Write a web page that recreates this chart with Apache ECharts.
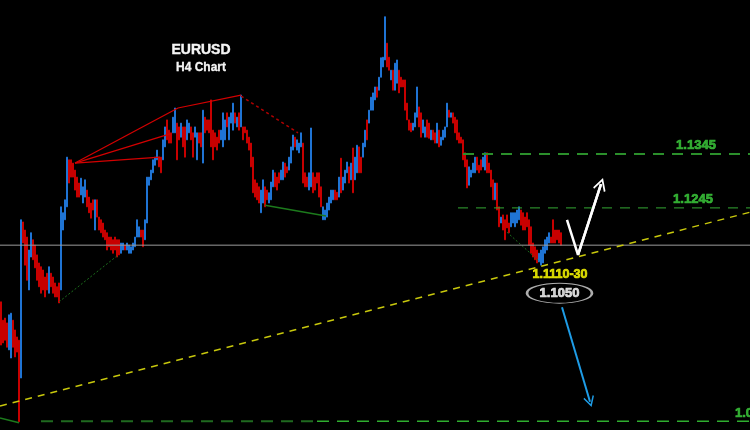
<!DOCTYPE html>
<html>
<head>
<meta charset="utf-8">
<script src="https://cdn.jsdelivr.net/npm/echarts@6/dist/echarts.min.js"></script>
<style>
html,body{margin:0;padding:0;background:#000;}
#chart{width:750px;height:430px;}
</style>
</head>
<body>
<div id="chart"></div>
<script>
// ---- EURUSD H4 candles (prices) ----
const candleOpen = [
1.1071,1.1037,1.1041,1.1032,1.0982,1.0967,1.1037,1.1019,1.1006,1.1000,
1.0930,1.1219,1.1204,1.1191,1.1093,1.1154,1.1186,1.1176,1.1158,1.1143,
1.1136,1.1130,1.1117,1.1124,1.1087,1.1124,1.1117,1.1106,1.1099,1.1106,
1.1093,1.1204,1.1223,1.1247,1.1334,1.1334,1.1328,1.1315,1.1302,1.1291,
1.1269,1.1254,1.1265,1.1278,1.1265,1.1254,1.1260,1.1204,1.1260,1.1228,
1.1223,1.1217,1.1204,1.1199,1.1191,1.1191,1.1186,1.1191,1.1186,1.1186,
1.1161,1.1167,1.1176,1.1167,1.1161,1.1161,1.1167,1.1173,1.1191,1.1191,
1.1204,1.1204,1.1186,1.1217,1.1287,1.1297,1.1310,1.1324,1.1334,1.1339,
1.1339,1.1334,1.1358,1.1408,1.1389,1.1384,1.1384,1.1384,1.1402,1.1395,
1.1376,1.1395,1.1395,1.1371,1.1384,1.1395,1.1384,1.1376,1.1334,1.1384,
1.1384,1.1328,1.1413,1.1408,1.1408,1.1445,1.1389,1.1384,1.1376,1.1389,
1.1371,1.1358,1.1371,1.1421,1.1371,1.1402,1.1389,1.1421,1.1395,1.1421,
1.1395,1.1395,1.1395,1.1389,1.1376,1.1365,1.1339,1.1297,1.1291,1.1284,
1.1236,1.1254,1.1284,1.1278,1.1254,1.1260,1.1284,1.1310,1.1302,1.1310,
1.1297,1.1297,1.1328,1.1321,1.1315,1.1328,1.1352,1.1376,1.1352,1.1347,
1.1358,1.1365,1.1310,1.1302,1.1278,1.1284,1.1310,1.1302,1.1310,1.1310,
1.1284,1.1223,1.1223,1.1228,1.1241,1.1254,1.1260,1.1278,1.1274,1.1265,
1.1337,1.1278,1.1291,1.1310,1.1321,1.1297,1.1356,1.1297,1.1310,1.1358,
1.1339,1.1339,1.1358,1.1408,1.1402,1.1426,1.1426,1.1445,1.1469,1.1463,
1.1487,1.1506,1.1519,1.1550,1.1524,1.1482,1.1500,1.1463,1.1476,1.1500,
1.1487,1.1482,1.1482,1.1439,1.1408,1.1402,1.1389,1.1395,1.1413,1.1432,
1.1421,1.1384,1.1376,1.1408,1.1402,1.1371,1.1389,1.1384,1.1365,1.1389,
1.1361,1.1371,1.1376,1.1395,1.1426,1.1413,1.1421,1.1413,1.1408,1.1384,
1.1376,1.1371,1.1347,1.1334,1.1287,1.1302,1.1310,1.1310,1.1339,1.1324,
1.1334,1.1321,1.1315,1.1347,1.1328,1.1315,1.1297,1.1260,1.1291,1.1247,
1.1217,1.1232,1.1223,1.1232,1.1217,1.1210,1.1217,1.1210,1.1217,1.1223,
1.1241,1.1236,1.1228,1.1236,1.1223,1.1210,1.1180,1.1173,1.1167,1.1145,
1.1139,1.1143,1.1161,1.1167,1.1180,1.1191,1.1223,1.1204,1.1204,1.1204,1.1199
];
const candleClose = [
1.0991,1.0995,1.1000,1.0987,1.1047,1.1050,1.0987,1.0969,1.0978,1.0849,
1.1223,1.1180,1.1139,1.1111,1.1167,1.1199,1.1149,1.1134,1.1111,1.1099,
1.1087,1.1093,1.1080,1.1093,1.1136,1.1099,1.1087,1.1080,1.1080,1.1069,
1.1247,1.1236,1.1260,1.1339,1.1291,1.1302,1.1302,1.1278,1.1265,1.1265,
1.1300,1.1284,1.1297,1.1247,1.1236,1.1226,1.1241,1.1260,1.1228,1.1204,
1.1199,1.1191,1.1186,1.1167,1.1173,1.1167,1.1161,1.1167,1.1154,1.1158,
1.1180,1.1180,1.1167,1.1180,1.1176,1.1173,1.1180,1.1191,1.1223,1.1210,
1.1191,1.1173,1.1223,1.1302,1.1302,1.1315,1.1334,1.1339,1.1352,1.1321,
1.1310,1.1371,1.1395,1.1371,1.1365,1.1365,1.1413,1.1430,1.1334,1.1371,
1.1402,1.1358,1.1339,1.1408,1.1402,1.1371,1.1339,1.1395,1.1384,1.1365,
1.1358,1.1426,1.1384,1.1389,1.1384,1.1358,1.1334,1.1358,1.1352,1.1365,
1.1389,1.1421,1.1408,1.1395,1.1413,1.1421,1.1439,1.1402,1.1413,1.1389,
1.1454,1.1371,1.1384,1.1365,1.1352,1.1321,1.1273,1.1265,1.1260,1.1254,
1.1278,1.1297,1.1247,1.1260,1.1273,1.1293,1.1315,1.1284,1.1278,1.1291,
1.1315,1.1330,1.1302,1.1310,1.1339,1.1358,1.1380,1.1358,1.1371,1.1365,
1.1384,1.1291,1.1284,1.1284,1.1310,1.1393,1.1273,1.1278,1.1291,1.1265,
1.1247,1.1247,1.1241,1.1254,1.1265,1.1278,1.1278,1.1260,1.1260,1.1302,
1.1273,1.1302,1.1315,1.1330,1.1291,1.1328,1.1273,1.1339,1.1361,1.1310,
1.1310,1.1365,1.1389,1.1371,1.1426,1.1450,1.1458,1.1469,1.1450,1.1487,
1.1523,1.1524,1.1599,1.1506,1.1500,1.1500,1.1463,1.1513,1.1519,1.1458,
1.1469,1.1469,1.1426,1.1408,1.1389,1.1386,1.1402,1.1421,1.1469,1.1395,
1.1376,1.1408,1.1395,1.1376,1.1374,1.1389,1.1371,1.1365,1.1402,1.1358,
1.1376,1.1389,1.1395,1.1439,1.1413,1.1421,1.1402,1.1384,1.1371,1.1365,
1.1365,1.1334,1.1321,1.1282,1.1321,1.1315,1.1328,1.1339,1.1315,1.1310,
1.1315,1.1339,1.1347,1.1310,1.1310,1.1284,1.1260,1.1291,1.1241,1.1210,
1.1228,1.1204,1.1186,1.1208,1.1199,1.1236,1.1236,1.1236,1.1241,1.1247,
1.1213,1.1204,1.1204,1.1210,1.1176,1.1161,1.1154,1.1149,1.1143,1.1161,
1.1167,1.1173,1.1186,1.1191,1.1199,1.1180,1.1180,1.1180,1.1186,1.1180,1.1176
];
const totalBars = 375;            // visible bar slots (last 94 are empty, future space)
const priceMin = 1.08337, priceMax = 1.1630;

// ---- levels & annotations (x = bar index, y = price) ----
const currentPrice = 1.1176;
const level1345 = 1.1345, level1245 = 1.1245, level1085 = 1.0850;
const level1345Start = 231, level1245Start = 228.5, level1085Start = 20, level1085Split = 158;
const trendLine = [[-0.5, 1.0878], [374.5, 1.1237]];
const fanLines = [
  [[37, 1.1328], [88.5, 1.1430]],
  [[88.5, 1.1430], [120, 1.1454]],
  [[37, 1.1328], [84.5, 1.1382]],
  [[37, 1.1328], [79.5, 1.1339]]
];
const redDotted = [[120, 1.1452], [148.5, 1.1384]];
const greenSolid = [
  [[-0.5, 1.0856], [9, 1.0847]],
  [[132, 1.1250], [162.5, 1.1230]]
];
const greenDotted = [
  [[29, 1.1071], [58, 1.1156]],
  [[253, 1.1200], [269.5, 1.1145]]
];
const whitePath = [[283, 1.1223], [288.5, 1.1158], [300, 1.1289]];
const bluePath = [[280.5, 1.1061], [294.5, 1.0886]];
const levelLabels = ['1.1345', '1.1245', '1.0850'];
const levelLabelPos = [[347.5, 1.1361], [346, 1.1261], [367, 1.0865]];
const zoneLabel = '1.1110-30', zoneLabelPos = [279.5, 1.1121];
const targetLabel = '1.1050', targetLabelPos = [279.25, 1.1087];
const titleText = 'EURUSD', subTitleText = 'H4 Chart';

// ---- build ----
const barNames = [];
for (let i = 0; i < totalBars; i++) barNames.push('Bar ' + (i + 1));
const candles = [];
for (let i = 0; i < Math.min(candleOpen.length, candleClose.length); i++) {
  const o = candleOpen[i], c = candleClose[i];
  candles.push([o, c, Math.min(o, c), Math.max(o, c)]);
}
const FONT = '"Liberation Sans", Arial, sans-serif';
const arrowHead = 'path://M0,0L7,11L5.5,12L0,3.5L-5.5,12L-7,11Z';

function seg(points, color, width, type, z) {
  return { type: 'line', xAxisIndex: 1, yAxisIndex: 0, data: points, symbol: 'none',
    silent: true, animation: false, z: z || 3,
    lineStyle: { color: color, width: width, type: type || 'solid' } };
}
function textLabel(color, size, stroke) {
  return { show: true, position: 'inside', formatter: '{b}', color: color, fontWeight: 'bold',
    fontSize: size, fontFamily: FONT, textBorderColor: stroke || color, textBorderWidth: 0.7, textShadowBlur: 0 };
}

const series = [];
series.push({
  type: 'candlestick', xAxisIndex: 0, yAxisIndex: 0, data: candles, barWidth: 2,
  silent: true, z: 2,
  itemStyle: { color: '#1f6fcc', color0: '#c40000', borderColor: '#1f74d4', borderColor0: '#c80000', borderWidth: 1 }
});
series.push(seg([[-0.5, currentPrice], [374.5, currentPrice]], '#9c9c9c', 1, 'solid', 4));
series.push(seg([[level1345Start, level1345], [374.5, level1345]], '#2b8f2b', 2, [11, 8]));
series.push(seg([[level1245Start, level1245], [374.5, level1245]], '#34a834', 1, [10, 8]));
series.push(seg([[level1085Start, level1085], [level1085Split, level1085]], '#1f6a1f', 2, [12, 8]));
series.push(seg([[level1085Split, level1085], [374.5, level1085]], '#2fae2f', 1.5, [12, 8]));
series.push(seg(trendLine, '#c8c80c', 1.5, [7, 6], 5));
fanLines.forEach(l => series.push(seg(l, '#d40000', 1.2)));
series.push(seg(redDotted, '#b00000', 1.5, [3, 3]));
greenSolid.forEach(l => series.push(seg(l, '#1c7a1c', 1.5)));
greenDotted.forEach(l => series.push(seg(l, '#1c6e1c', 1, [2, 2])));
series.push(seg(whitePath, '#ffffff', 2.5, 'solid', 6));
series.push({
  type: 'lines', coordinateSystem: 'cartesian2d', xAxisIndex: 1, yAxisIndex: 0, silent: true, z: 6,
  symbol: ['none', arrowHead], symbolSize: [13, 13],
  lineStyle: { color: '#ffffff', width: 2.5, opacity: 1 },
  data: [{ coords: [whitePath[1], whitePath[2]] }]
});
series.push({
  type: 'lines', coordinateSystem: 'cartesian2d', xAxisIndex: 1, yAxisIndex: 0, silent: true, z: 6,
  symbol: ['none', arrowHead], symbolSize: [11, 11],
  lineStyle: { color: '#1e9ce6', width: 2, opacity: 1 },
  data: [{ coords: bluePath }]
});
series.push({
  type: 'scatter', xAxisIndex: 1, yAxisIndex: 0, silent: true, z: 7,
  symbolSize: 1, itemStyle: { color: 'rgba(0,0,0,0)' },
  data: [
    { name: levelLabels[0], value: levelLabelPos[0] },
    { name: levelLabels[1], value: levelLabelPos[1] },
    { name: levelLabels[2], value: levelLabelPos[2], label: { align: 'left' } }
  ],
  label: textLabel('#3ccc3c', 13)
});
series.push({
  type: 'scatter', xAxisIndex: 1, yAxisIndex: 0, silent: true, z: 7,
  symbolSize: 1, itemStyle: { color: 'rgba(0,0,0,0)' },
  data: [{ name: zoneLabel, value: zoneLabelPos }],
  label: textLabel('#ffff00', 12.5)
});
series.push({
  type: 'scatter', xAxisIndex: 1, yAxisIndex: 0, silent: true, z: 7,
  symbol: 'circle', symbolSize: [65, 20],
  itemStyle: { color: '#000', borderColor: '#d8d8d8', borderWidth: 1.5 },
  data: [{ name: targetLabel, value: targetLabelPos }],
  label: textLabel('#ffffff', 13)
});

const chart = echarts.init(document.getElementById('chart'), null, { renderer: 'canvas' });
chart.setOption({
  backgroundColor: '#000',
  animation: false,
  grid: { left: 0, right: 0, top: 0, bottom: 0 },
  xAxis: [
    { type: 'category', data: barNames, show: false, boundaryGap: true },
    { type: 'value', min: -0.5, max: 374.5, show: false }
  ],
  yAxis: { type: 'value', min: priceMin, max: priceMax, show: false, splitLine: { show: false } },
  graphic: [
    { type: 'text', x: 201, y: 50, silent: true,
      style: { text: titleText, fill: '#f4f4f4', stroke: '#f4f4f4', lineWidth: 0.4, font: 'bold 14px ' + FONT, align: 'center', verticalAlign: 'middle', textAlign: 'center', textVerticalAlign: 'middle' } },
    { type: 'text', x: 201, y: 68, silent: true,
      style: { text: subTitleText, fill: '#f4f4f4', stroke: '#f4f4f4', lineWidth: 0.3, font: 'bold 12px ' + FONT, align: 'center', verticalAlign: 'middle', textAlign: 'center', textVerticalAlign: 'middle' } }
  ],
  series: series
});
</script>
</body>
</html>
